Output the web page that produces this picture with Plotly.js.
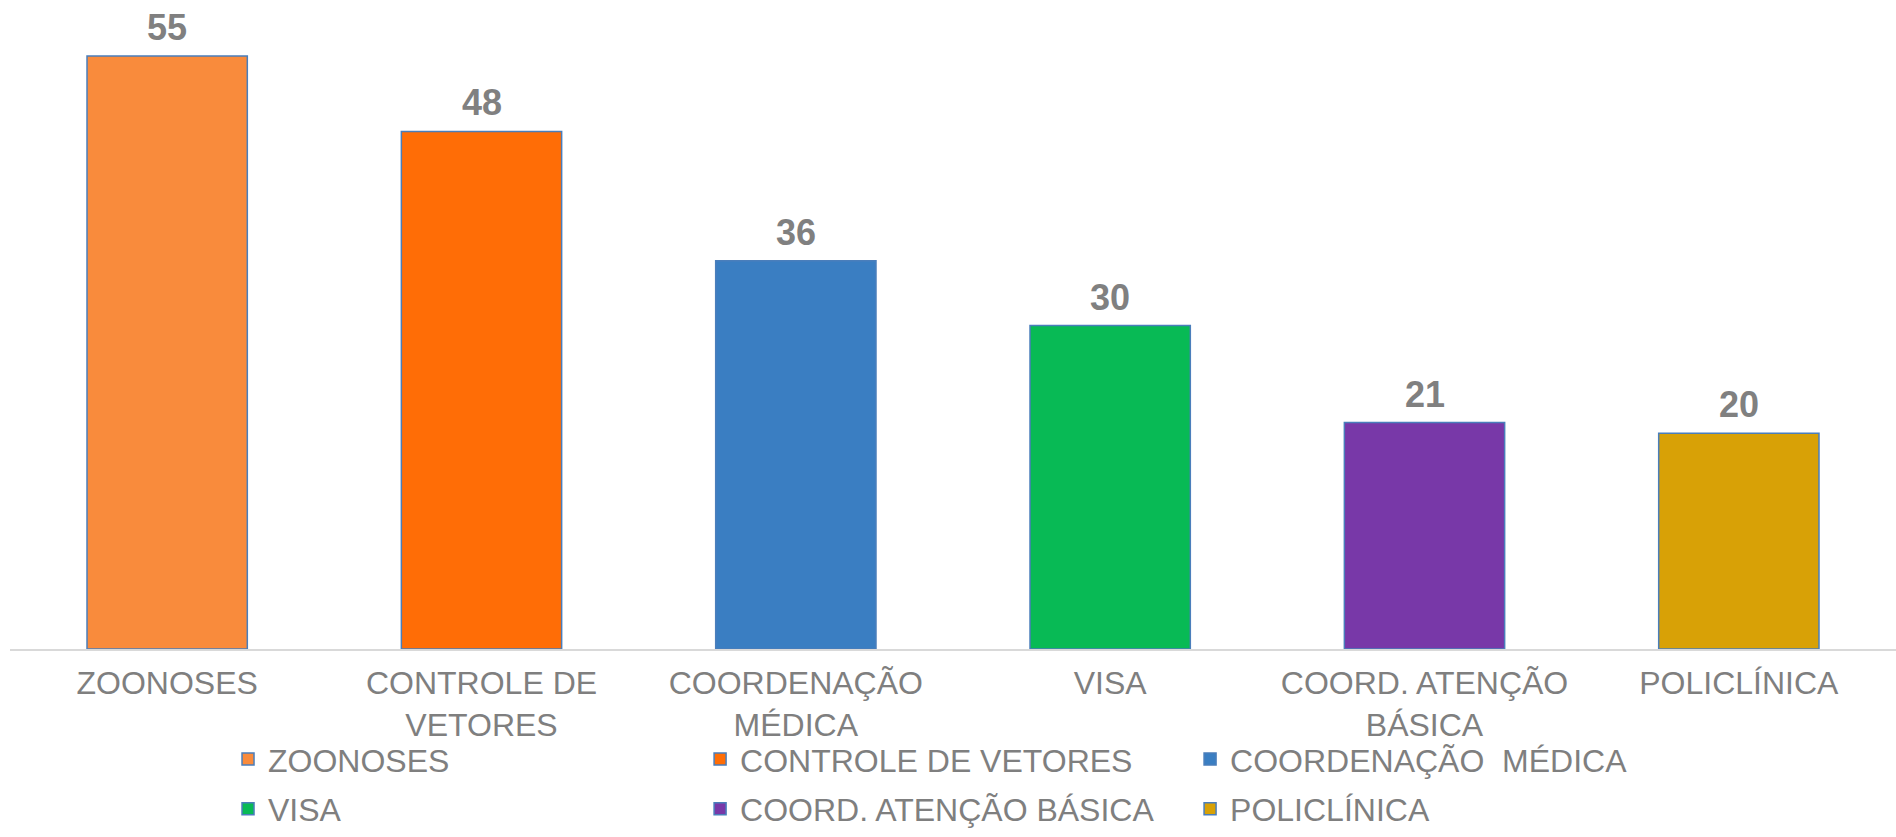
<!DOCTYPE html>
<html>
<head>
<meta charset="utf-8">
<script src="https://cdn.plot.ly/plotly-3.0.1.min.js"></script>
<style>html,body{margin:0;padding:0;background:#fff;}#chart{width:1896px;height:837px;}</style>
</head>
<body>
<div id="chart"></div>
<script>
const categories = ["ZOONOSES", "CONTROLE DE VETORES", "COORDENAÇÃO MÉDICA", "VISA", "COORD. ATENÇÃO BÁSICA", "POLICLÍNICA"];
const values = [55, 48, 36, 30, 21, 20];
const tickLabels = ["ZOONOSES", "CONTROLE DE<br>VETORES", "COORDENAÇÃO<br>MÉDICA", "VISA", "COORD. ATENÇÃO<br>BÁSICA", "POLICLÍNICA"];
const legendNames = ["ZOONOSES", "CONTROLE DE VETORES", "COORDENAÇÃO\u00a0 MÉDICA", "VISA", "COORD. ATENÇÃO BÁSICA", "POLICLÍNICA"];
const colors = ["#F98B3C", "#FF6D06", "#3A7EC2", "#08BA55", "#7838A8", "#D8A106"];
const legendOf = ["legend", "legend2", "legend3", "legend", "legend2", "legend3"];

const FONT = "Liberation Sans, Arial, sans-serif";
const GREY = "#7F7F7F";

const traces = categories.map((c, i) => ({
  type: "bar",
  x: [c],
  y: [values[i]],
  name: legendNames[i],
  legend: legendOf[i],
  legendgroup: "g" + i,
  marker: {color: colors[i], line: {color: "#4A7EBB", width: 1.5}},
  hoverinfo: "x+y"
}));

const annotations = categories.map((c, i) => ({
  x: c, y: values[i], xref: "x", yref: "y",
  text: String(values[i]),
  showarrow: false, yanchor: "bottom", yshift: 6,
  font: {family: FONT, size: 36, color: "#808080", weight: "bold"}
}));

const legendBase = {
  orientation: "v", xref: "paper", yref: "paper",
  yanchor: "top", xanchor: "left", y: -0.128,
  font: {family: FONT, size: 32, color: GREY},
  bgcolor: "rgba(0,0,0,0)", traceorder: "grouped", tracegroupgap: 5
};

const layout = {
  width: 1896, height: 837,
  margin: {l: 10, r: 0, t: 2, b: 183},
  paper_bgcolor: "#ffffff", plot_bgcolor: "#ffffff",
  barmode: "overlay", bargap: 0.49,
  showlegend: true,
  xaxis: {
    type: "category", categoryorder: "array", categoryarray: categories,
    tickmode: "array", tickvals: categories, ticktext: tickLabels,
    tickangle: 0, automargin: false, ticklabelstandoff: 5,
    showline: true, linecolor: "#D9D9D9", linewidth: 2,
    ticks: "", showgrid: false, zeroline: false,
    tickfont: {family: FONT, size: 32, color: GREY}
  },
  yaxis: {range: [0, 60], visible: false, showgrid: false, zeroline: false, automargin: false},
  annotations: annotations,
  legend: Object.assign({}, legendBase, {x: 0.1156}),
  legend2: Object.assign({}, legendBase, {x: 0.3659}),
  legend3: Object.assign({}, legendBase, {x: 0.6257})
};

Plotly.newPlot("chart", traces, layout, {displayModeBar: false, staticPlot: true});
</script>
</body>
</html>
